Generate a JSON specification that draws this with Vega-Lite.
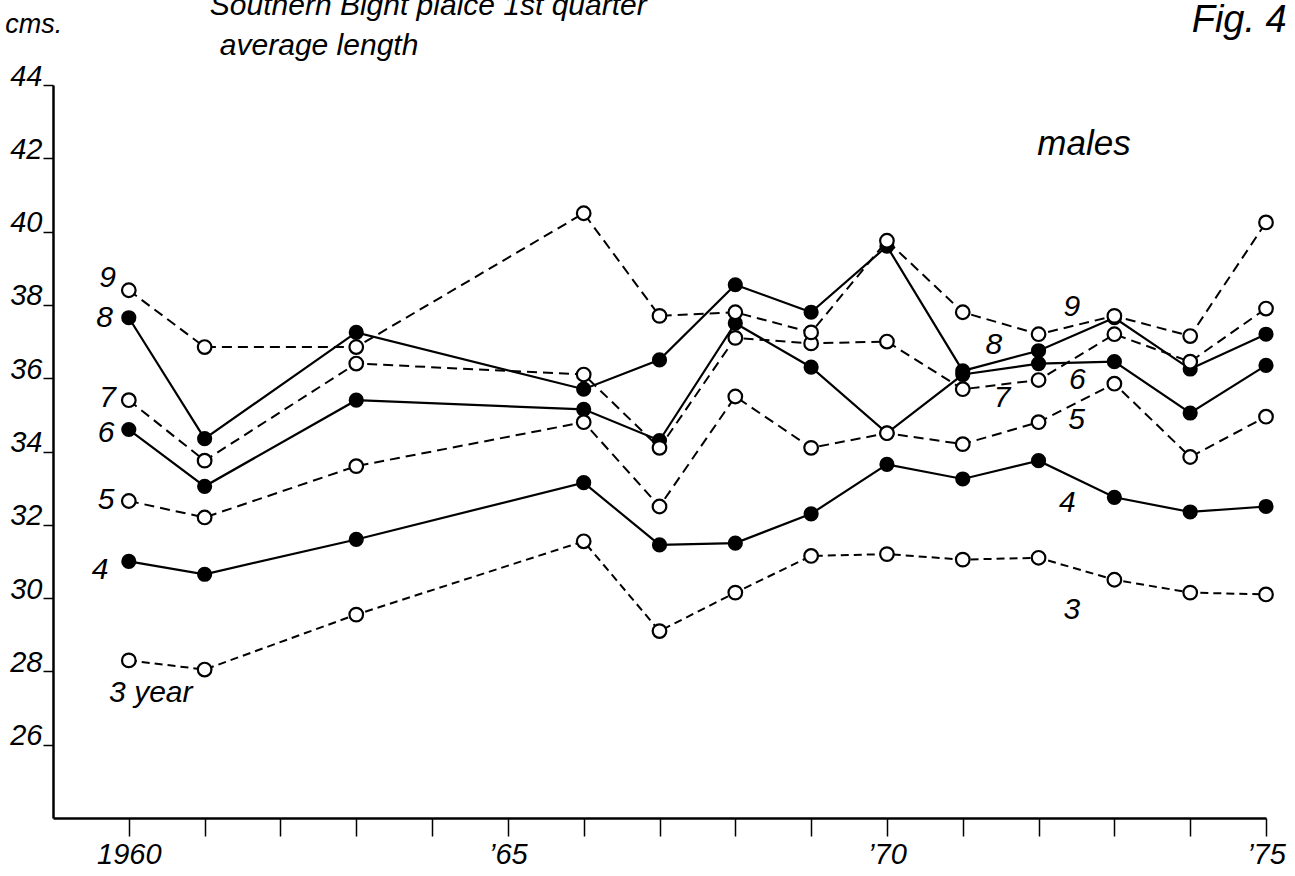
{
  "$schema": "https://vega.github.io/schema/vega-lite/v6.json",
  "width": 1213,
  "height": 733,
  "autosize": {"type": "none"},
  "padding": {"left": 53, "top": 85, "right": 29, "bottom": 58},
  "background": "white",
  "config": {
    "view": {"stroke": null},
    "font": "Liberation Sans",
    "axis": {
      "grid": false,
      "title": null,
      "domainColor": "black",
      "tickColor": "black",
      "labelColor": "black",
      "labelFont": "Liberation Sans",
      "labelFontStyle": "italic",
      "labelOverlap": false,
      "labelFlush": false
    }
  },
  "datasets": {
    "lengths": [
      {"age": 3, "year": 1960, "len": 28.3}, {"age": 3, "year": 1961, "len": 28.05}, {"age": 3, "year": 1963, "len": 29.55},
      {"age": 3, "year": 1966, "len": 31.55}, {"age": 3, "year": 1967, "len": 29.1}, {"age": 3, "year": 1968, "len": 30.15},
      {"age": 3, "year": 1969, "len": 31.15}, {"age": 3, "year": 1970, "len": 31.2}, {"age": 3, "year": 1971, "len": 31.05},
      {"age": 3, "year": 1972, "len": 31.1}, {"age": 3, "year": 1973, "len": 30.5}, {"age": 3, "year": 1974, "len": 30.15},
      {"age": 3, "year": 1975, "len": 30.1},

      {"age": 4, "year": 1960, "len": 31.0}, {"age": 4, "year": 1961, "len": 30.65}, {"age": 4, "year": 1963, "len": 31.6},
      {"age": 4, "year": 1966, "len": 33.15}, {"age": 4, "year": 1967, "len": 31.45}, {"age": 4, "year": 1968, "len": 31.5},
      {"age": 4, "year": 1969, "len": 32.3}, {"age": 4, "year": 1970, "len": 33.65}, {"age": 4, "year": 1971, "len": 33.25},
      {"age": 4, "year": 1972, "len": 33.75}, {"age": 4, "year": 1973, "len": 32.75}, {"age": 4, "year": 1974, "len": 32.35},
      {"age": 4, "year": 1975, "len": 32.5},

      {"age": 5, "year": 1960, "len": 32.65}, {"age": 5, "year": 1961, "len": 32.2}, {"age": 5, "year": 1963, "len": 33.6},
      {"age": 5, "year": 1966, "len": 34.8}, {"age": 5, "year": 1967, "len": 32.5}, {"age": 5, "year": 1968, "len": 35.5},
      {"age": 5, "year": 1969, "len": 34.1}, {"age": 5, "year": 1970, "len": 34.5}, {"age": 5, "year": 1971, "len": 34.2},
      {"age": 5, "year": 1972, "len": 34.8}, {"age": 5, "year": 1973, "len": 35.85}, {"age": 5, "year": 1974, "len": 33.85},
      {"age": 5, "year": 1975, "len": 34.95},

      {"age": 6, "year": 1960, "len": 34.6}, {"age": 6, "year": 1961, "len": 33.05}, {"age": 6, "year": 1963, "len": 35.4},
      {"age": 6, "year": 1966, "len": 35.15}, {"age": 6, "year": 1967, "len": 34.3}, {"age": 6, "year": 1968, "len": 37.5},
      {"age": 6, "year": 1969, "len": 36.3}, {"age": 6, "year": 1970, "len": 34.5}, {"age": 6, "year": 1971, "len": 36.1},
      {"age": 6, "year": 1972, "len": 36.4}, {"age": 6, "year": 1973, "len": 36.45}, {"age": 6, "year": 1974, "len": 35.05},
      {"age": 6, "year": 1975, "len": 36.35},

      {"age": 7, "year": 1960, "len": 35.4}, {"age": 7, "year": 1961, "len": 33.75}, {"age": 7, "year": 1963, "len": 36.4},
      {"age": 7, "year": 1966, "len": 36.1}, {"age": 7, "year": 1967, "len": 34.1}, {"age": 7, "year": 1968, "len": 37.1},
      {"age": 7, "year": 1969, "len": 36.95}, {"age": 7, "year": 1970, "len": 37.0}, {"age": 7, "year": 1971, "len": 35.7},
      {"age": 7, "year": 1972, "len": 35.95}, {"age": 7, "year": 1973, "len": 37.2}, {"age": 7, "year": 1974, "len": 36.45},
      {"age": 7, "year": 1975, "len": 37.9},

      {"age": 8, "year": 1960, "len": 37.65}, {"age": 8, "year": 1961, "len": 34.35}, {"age": 8, "year": 1963, "len": 37.25},
      {"age": 8, "year": 1966, "len": 35.7}, {"age": 8, "year": 1967, "len": 36.5}, {"age": 8, "year": 1968, "len": 38.55},
      {"age": 8, "year": 1969, "len": 37.8}, {"age": 8, "year": 1970, "len": 39.6}, {"age": 8, "year": 1971, "len": 36.2},
      {"age": 8, "year": 1972, "len": 36.75}, {"age": 8, "year": 1973, "len": 37.65}, {"age": 8, "year": 1974, "len": 36.25},
      {"age": 8, "year": 1975, "len": 37.2},

      {"age": 9, "year": 1960, "len": 38.4}, {"age": 9, "year": 1961, "len": 36.85}, {"age": 9, "year": 1963, "len": 36.85},
      {"age": 9, "year": 1966, "len": 40.5}, {"age": 9, "year": 1967, "len": 37.7}, {"age": 9, "year": 1968, "len": 37.8},
      {"age": 9, "year": 1969, "len": 37.25}, {"age": 9, "year": 1970, "len": 39.75}, {"age": 9, "year": 1971, "len": 37.8},
      {"age": 9, "year": 1972, "len": 37.2}, {"age": 9, "year": 1973, "len": 37.7}, {"age": 9, "year": 1974, "len": 37.15},
      {"age": 9, "year": 1975, "len": 40.25}
    ],
    "notes": [
      {"role": "tag", "year": 1959.72, "len": 38.74, "text": "9"},
      {"role": "tag", "year": 1959.68, "len": 37.65, "text": "8"},
      {"role": "tag", "year": 1959.72, "len": 35.46, "text": "7"},
      {"role": "tag", "year": 1959.70, "len": 34.51, "text": "6"},
      {"role": "tag", "year": 1959.70, "len": 32.68, "text": "5"},
      {"role": "tag", "year": 1959.62, "len": 30.77, "text": "4"},
      {"role": "tag", "year": 1960.29, "len": 27.42, "text": "3 year"},
      {"role": "tag", "year": 1972.44, "len": 37.95, "text": "9"},
      {"role": "tag", "year": 1971.41, "len": 36.91, "text": "8"},
      {"role": "tag", "year": 1971.52, "len": 35.46, "text": "7"},
      {"role": "tag", "year": 1972.51, "len": 35.95, "text": "6"},
      {"role": "tag", "year": 1972.50, "len": 34.86, "text": "5"},
      {"role": "tag", "year": 1972.38, "len": 32.60, "text": "4"},
      {"role": "tag", "year": 1972.44, "len": 29.68, "text": "3"},
      {"role": "heading", "year": 1963.95, "len": 45.9, "text": "Southern Bight plaice 1st quarter"},
      {"role": "heading", "year": 1962.51, "len": 44.82, "text": "average length"},
      {"role": "male", "year": 1972.60, "len": 42.09, "text": "males"},
      {"role": "unit", "year": 1958.37, "len": 45.42, "text": "cms."},
      {"role": "figure", "year": 1974.02, "len": 45.45, "text": "Fig. 4"}
    ]
  },
  "encoding": {
    "x": {
      "field": "year", "type": "quantitative",
      "scale": {"domain": [1959, 1975], "nice": false, "zero": false},
      "axis": {
        "values": [1960, 1961, 1962, 1963, 1964, 1965, 1966, 1967, 1968, 1969, 1970, 1971, 1972, 1973, 1974, 1975],
        "labelExpr": "datum.value == 1960 ? '1960' : datum.value == 1965 ? '\u201965' : datum.value == 1970 ? '\u201970' : datum.value == 1975 ? '\u201975' : ''",
        "tickSize": 18, "tickWidth": 1.5, "domainWidth": 2.5, "labelPadding": 4, "labelFontSize": 29
      }
    },
    "y": {
      "field": "len", "type": "quantitative",
      "scale": {"domain": [24, 44], "nice": false, "zero": false},
      "axis": {
        "values": [26, 28, 30, 32, 34, 36, 38, 40, 42, 44],
        "tickSize": 10, "tickWidth": 1.5, "domainWidth": 2.5, "labelFontSize": 29,
        "labelBaseline": "alphabetic", "labelAlign": "right", "labelPadding": 1
      }
    }
  },
  "layer": [
    {
      "data": {"name": "lengths"},
      "transform": [{"filter": "datum.age % 2 == 0"}],
      "mark": {"type": "line", "color": "black", "strokeWidth": 2.2},
      "encoding": {"detail": {"field": "age", "type": "nominal"}}
    },
    {
      "data": {"name": "lengths"},
      "transform": [{"filter": "datum.age % 2 == 1 && datum.age != 3"}],
      "mark": {"type": "line", "color": "black", "strokeWidth": 2, "strokeDash": [10, 6]},
      "encoding": {"detail": {"field": "age", "type": "nominal"}}
    },
    {
      "data": {"name": "lengths"},
      "transform": [{"filter": "datum.age == 3"}],
      "mark": {"type": "line", "color": "black", "strokeWidth": 2, "strokeDash": [8, 5]},
      "encoding": {}
    },
    {
      "data": {"name": "lengths"},
      "transform": [{"filter": "datum.age % 2 == 0"}],
      "mark": {"type": "point", "shape": "circle", "filled": true, "color": "black", "opacity": 1, "size": 230}
    },
    {
      "data": {"name": "lengths"},
      "transform": [{"filter": "datum.age % 2 == 1"}],
      "mark": {"type": "point", "shape": "circle", "filled": true, "fill": "white", "stroke": "black", "strokeWidth": 2.2, "opacity": 1, "size": 185}
    },
    {
      "data": {"name": "notes"},
      "transform": [{"filter": "datum.role == 'tag'"}],
      "mark": {"type": "text", "font": "Liberation Sans", "fontStyle": "italic", "fontSize": 30, "align": "center", "baseline": "middle", "color": "black"},
      "encoding": {"text": {"field": "text"}}
    },
    {
      "data": {"name": "notes"},
      "transform": [{"filter": "datum.role == 'heading'"}],
      "mark": {"type": "text", "font": "Liberation Sans", "fontStyle": "italic", "fontSize": 30, "align": "center", "baseline": "alphabetic", "color": "black"},
      "encoding": {"text": {"field": "text"}}
    },
    {
      "data": {"name": "notes"},
      "transform": [{"filter": "datum.role == 'male'"}],
      "mark": {"type": "text", "font": "Liberation Sans", "fontStyle": "italic", "fontSize": 35, "align": "center", "baseline": "alphabetic", "color": "black"},
      "encoding": {"text": {"field": "text"}}
    },
    {
      "data": {"name": "notes"},
      "transform": [{"filter": "datum.role == 'unit'"}],
      "mark": {"type": "text", "font": "Liberation Sans", "fontStyle": "italic", "fontSize": 27, "align": "left", "baseline": "alphabetic", "color": "black"},
      "encoding": {"text": {"field": "text"}}
    },
    {
      "data": {"name": "notes"},
      "transform": [{"filter": "datum.role == 'figure'"}],
      "mark": {"type": "text", "font": "Liberation Sans", "fontStyle": "italic", "fontSize": 38, "align": "left", "baseline": "alphabetic", "color": "black"},
      "encoding": {"text": {"field": "text"}}
    }
  ]
}
